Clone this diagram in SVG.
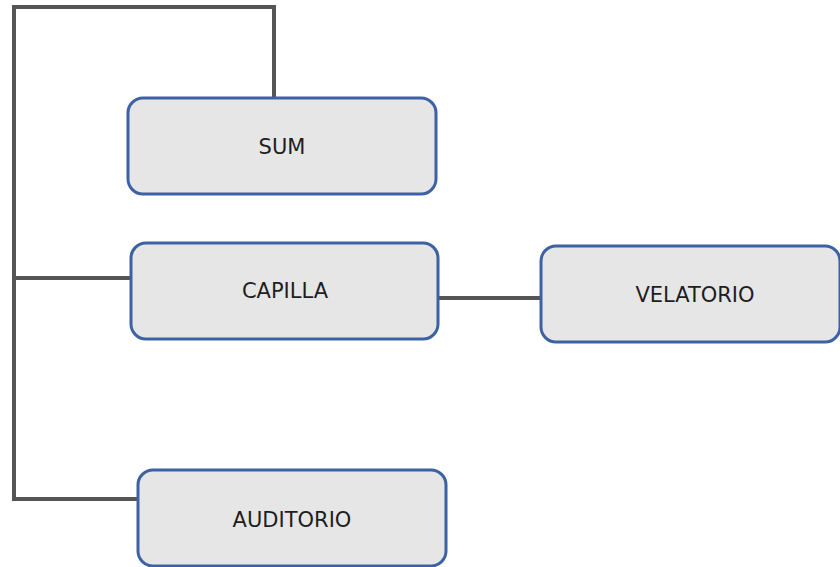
<svg xmlns="http://www.w3.org/2000/svg" width="840" height="567" viewBox="0 0 840 567">
  <style>
    .box { fill: #e6e6e6; stroke: #3c62a3; stroke-width: 3; }
    .lbl { font-family: "DejaVu Sans", Verdana, sans-serif; font-size: 21px; fill: #1e1e1e; text-anchor: middle; dominant-baseline: central; }
    .link { fill: none; stroke: #555555; stroke-width: 4; stroke-linejoin: miter; stroke-linecap: square; }
  </style>
  <rect width="840" height="567" fill="#ffffff"/>

  <g id="connectors">
    <path class="link" d="M274,97 V7 H14 V499 H137"/>
    <path class="link" d="M14,278 H130"/>
    <path class="link" d="M439,298 H541"/>
  </g>

  <g id="sum">
    <rect class="box" x="128" y="98" width="308" height="96" rx="15"/>
    <text class="lbl" x="282" y="147">SUM</text>
  </g>
  <g id="capilla">
    <rect class="box" x="131" y="243" width="307" height="96" rx="15"/>
    <text class="lbl" x="285" y="291">CAPILLA</text>
  </g>
  <g id="velatorio">
    <rect class="box" x="541" y="246" width="299" height="96" rx="15"/>
    <text class="lbl" x="695" y="295">VELATORIO</text>
  </g>
  <g id="auditorio">
    <rect class="box" x="138" y="470" width="308" height="96" rx="15"/>
    <text class="lbl" x="292" y="520">AUDITORIO</text>
  </g>
</svg>
